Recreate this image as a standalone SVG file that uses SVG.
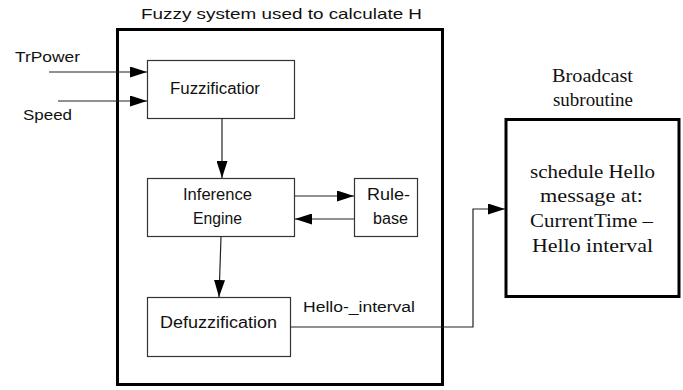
<svg xmlns="http://www.w3.org/2000/svg" width="683" height="390" viewBox="0 0 683 390">
  <defs>
    <marker id="arrow" viewBox="0 0 17 11" refX="17" refY="5.5" markerWidth="17" markerHeight="11" markerUnits="userSpaceOnUse" orient="auto">
      <path d="M0,0 L17,5.5 L0,11 z" fill="#000"/>
    </marker>
    <style>
      .sans { font-family: "Liberation Sans", Arial, sans-serif; fill: #111; }
      .serif { font-family: "Liberation Serif", "Times New Roman", serif; fill: #111; }
      .box { fill: #fff; stroke: #333; stroke-width: 1.2; }
      .frame { fill: none; stroke: #000; stroke-width: 3; }
      .wire { fill: none; stroke: #222; stroke-width: 1.2; }
    </style>
  </defs>
  <rect width="683" height="390" fill="#fff"/>

  <!-- fuzzy system enclosure -->
  <g id="fuzzy-system">
    <rect class="frame" x="117.5" y="29.5" width="325" height="355"/>
    <text class="sans" x="141" y="19" font-size="15" textLength="281" lengthAdjust="spacingAndGlyphs">Fuzzy system used to calculate H</text>
  </g>

  <!-- inputs -->
  <g id="input-trpower">
    <text class="sans" x="15" y="62" font-size="15" textLength="65" lengthAdjust="spacingAndGlyphs">TrPower</text>
  </g>
  <g id="input-speed">
    <text class="sans" x="23" y="120" font-size="15" textLength="49" lengthAdjust="spacingAndGlyphs">Speed</text>
  </g>

  <g id="fuzzification">
    <rect class="box" x="147.5" y="60.5" width="147" height="58"/>
    <text class="sans" x="170" y="94" font-size="16" textLength="90" lengthAdjust="spacingAndGlyphs">Fuzzificatior</text>
  </g>

  <g id="inference-engine">
    <rect class="box" x="147.5" y="178.5" width="147" height="58"/>
    <text class="sans" x="183" y="200" font-size="16" textLength="69" lengthAdjust="spacingAndGlyphs">Inference</text>
    <text class="sans" x="193" y="224" font-size="16" textLength="49" lengthAdjust="spacingAndGlyphs">Engine</text>
  </g>

  <g id="rule-base">
    <rect class="box" x="354.5" y="178.5" width="63" height="58"/>
    <text class="sans" x="367" y="200" font-size="16" textLength="43" lengthAdjust="spacingAndGlyphs">Rule-</text>
    <text class="sans" x="373" y="224" font-size="16" textLength="35" lengthAdjust="spacingAndGlyphs">base</text>
  </g>

  <g id="defuzzification">
    <rect class="box" x="147.5" y="297.5" width="143" height="59"/>
    <text class="sans" x="160" y="328" font-size="16" textLength="117" lengthAdjust="spacingAndGlyphs">Defuzzification</text>
  </g>

  <g id="broadcast-subroutine">
    <text class="serif" x="552" y="82" font-size="18" textLength="81" lengthAdjust="spacingAndGlyphs">Broadcast</text>
    <text class="serif" x="553" y="106" font-size="18" textLength="80" lengthAdjust="spacingAndGlyphs">subroutine</text>
    <rect x="506" y="119.5" width="173" height="177" fill="#fff" stroke="#000" stroke-width="3"/>
    <text class="serif" x="530" y="178" font-size="19" textLength="125" lengthAdjust="spacingAndGlyphs">schedule Hello</text>
    <text class="serif" x="540" y="202" font-size="19" textLength="103" lengthAdjust="spacingAndGlyphs">message at:</text>
    <text class="serif" x="530" y="227" font-size="19" textLength="123" lengthAdjust="spacingAndGlyphs">CurrentTime –</text>
    <text class="serif" x="532" y="252" font-size="19" textLength="121" lengthAdjust="spacingAndGlyphs">Hello  interval</text>
  </g>

  <!-- connectors -->
  <g id="connectors">
    <line class="wire" x1="49" y1="72" x2="147" y2="72" marker-end="url(#arrow)"/>
    <line class="wire" x1="58" y1="101" x2="147" y2="101" marker-end="url(#arrow)"/>
    <line class="wire" x1="222" y1="118" x2="222" y2="178" marker-end="url(#arrow)"/>
    <line class="wire" x1="295" y1="196" x2="354" y2="196" marker-end="url(#arrow)"/>
    <line class="wire" x1="354" y1="219" x2="295" y2="219" marker-end="url(#arrow)"/>
    <line class="wire" x1="221" y1="237" x2="219" y2="297" marker-end="url(#arrow)"/>
    <polyline class="wire" points="290,327 473,327 473,209 505,209" marker-end="url(#arrow)"/>
    <text class="sans" x="303" y="312" font-size="14" textLength="112" lengthAdjust="spacingAndGlyphs">Hello-_interval</text>
  </g>
</svg>
